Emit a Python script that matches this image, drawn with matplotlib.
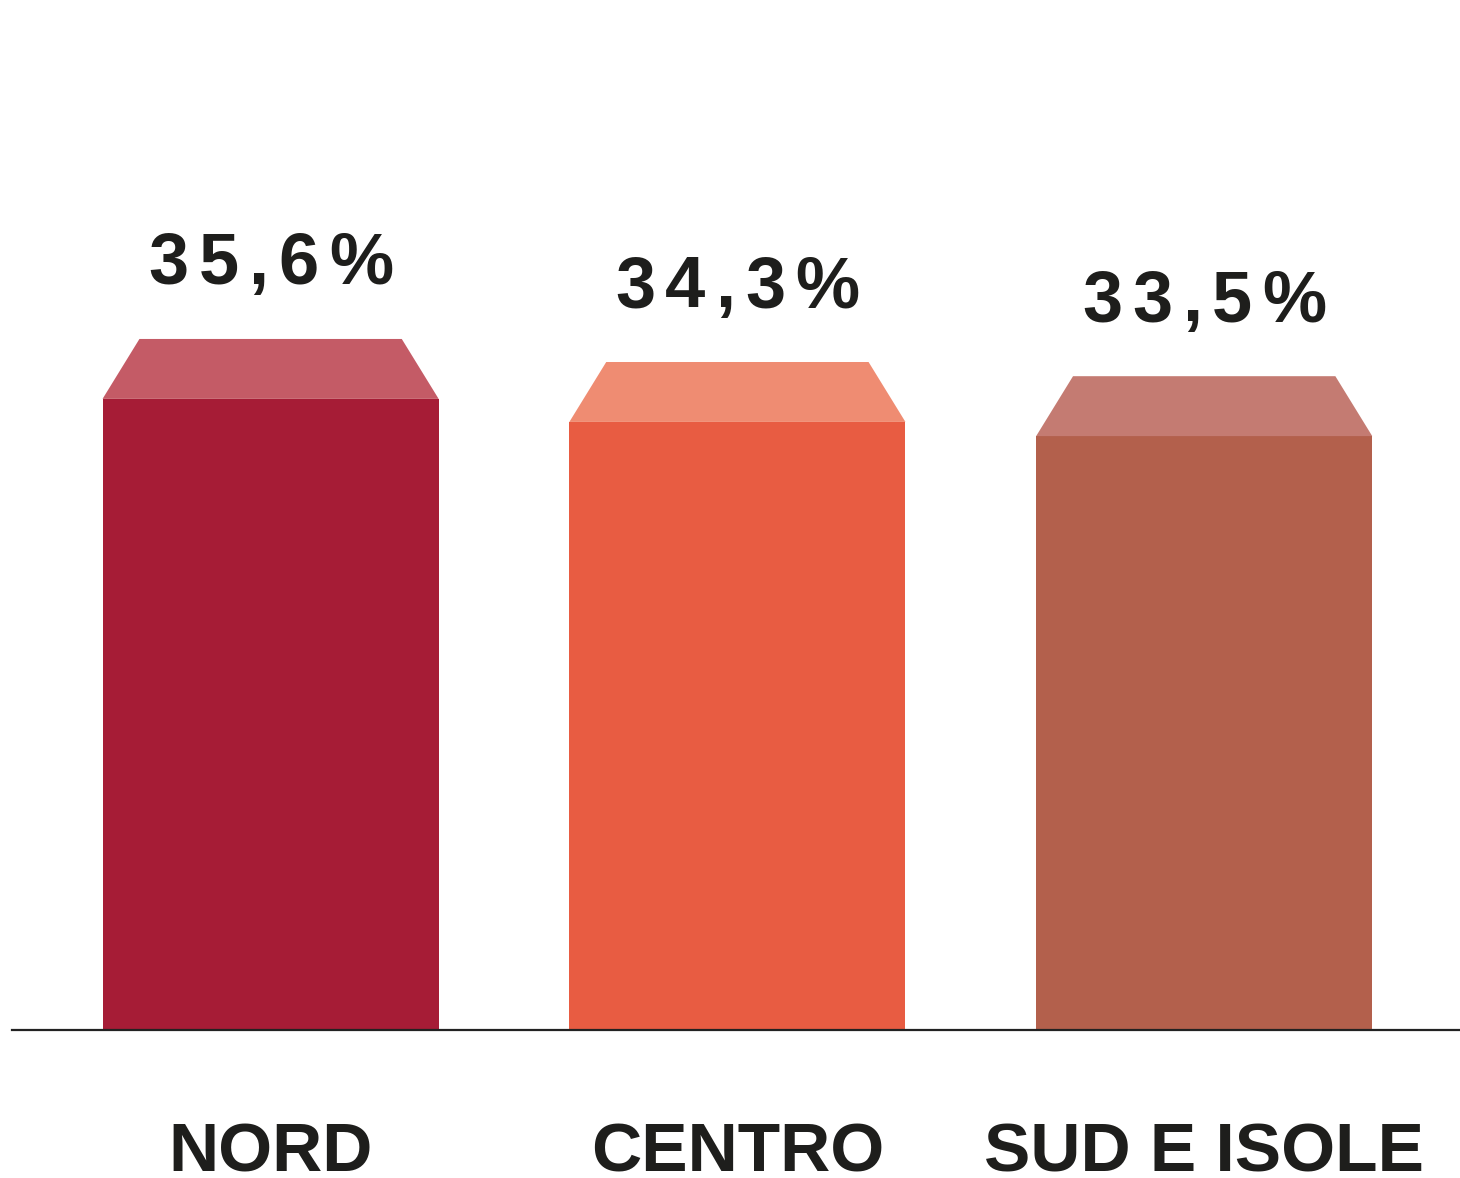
import numpy as np
import matplotlib.pyplot as plt
from matplotlib.patches import Polygon
from matplotlib.font_manager import FontProperties

# dati
categorie = ['NORD', 'CENTRO', 'SUD E ISOLE']
valori = [35.6, 34.3, 33.5]
etichette = ['35,6%', '34,3%', '33,5%']
colori_barra = ['#A61C36', '#E85C42', '#B3604C']
colori_tetto = ['#C45B66', '#EF8C72', '#C47B72']

DPI = 100
testo_col = '#1E1E1C'

fig = plt.figure(figsize=(14.6, 11.78), dpi=DPI)
ax = fig.add_axes([12 / 1460, 148 / 1178, 1448 / 1460, 1030 / 1178])
ax.set_xlim(-0.554, 2.548)
ax.set_ylim(0, 58.1)

x = np.arange(len(categorie))
larg = 0.72
tetto_h = 3.38      # altezza del "tetto" in unita' dati
rientro = 0.079     # rientro del lato superiore

ax.bar(x, valori, width=larg, color=colori_barra, linewidth=0, zorder=2)

for i, v in enumerate(valori):
    x0, x1 = i - larg / 2, i + larg / 2
    poly = Polygon([(x0, v), (x1, v), (x1 - rientro, v + tetto_h), (x0 + rientro, v + tetto_h)],
                   closed=True, facecolor=colori_tetto[i], edgecolor='none', zorder=2)
    ax.add_patch(poly)

# etichette percentuali con spaziatura tra le lettere
fp = FontProperties(family='Liberation Sans', weight='bold', size=52)
renderer = fig.canvas.get_renderer()
gap = 10  # px tra i caratteri

for i, (v, s) in enumerate(zip(valori, etichette)):
    larghezze = []
    for ch in s:
        t = fig.text(0, 0, ch, fontproperties=fp)
        larghezze.append(t.get_window_extent(renderer).width)
        t.remove()
    tot = sum(larghezze) + gap * (len(s) - 1)
    pos = -tot / 2
    for ch, w in zip(s, larghezze):
        ax.annotate(ch, xy=(i, v + tetto_h), xytext=((pos + w / 2) * 72 / DPI, 55 * 72 / DPI),
                    textcoords='offset points', ha='center', va='baseline',
                    fontproperties=fp, color=testo_col, annotation_clip=False)
        pos += w + gap

# nomi delle aree sotto l'asse
for i, c in enumerate(categorie):
    ax.annotate(c, xy=(i, 0), xytext=(0, -141 * 72 / DPI), textcoords='offset points',
                ha='center', va='baseline', family='Liberation Sans', weight='bold',
                fontsize=50, color=testo_col, annotation_clip=False)

for side in ['top', 'right', 'left']:
    ax.spines[side].set_visible(False)
ax.spines['bottom'].set_color('#222222')
ax.spines['bottom'].set_linewidth(1.6)
ax.spines['bottom'].set_zorder(3)
ax.set_xticks([])
ax.set_yticks([])
ax.patch.set_alpha(0)

fig.savefig('out.png', dpi=DPI)
